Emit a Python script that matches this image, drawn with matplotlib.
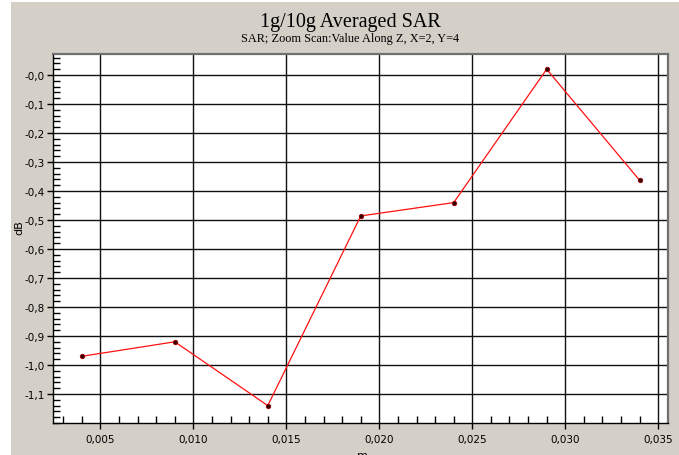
import matplotlib
matplotlib.use("Agg")
import matplotlib.pyplot as plt
from matplotlib.patches import Rectangle
from matplotlib.ticker import MultipleLocator, FuncFormatter

# values
distance_m = [0.004, 0.009, 0.014, 0.019, 0.024, 0.029, 0.034]
sar_db = [-0.97, -0.92, -1.14, -0.486, -0.44, 0.02, -0.363]
x_ticks = [0.005, 0.010, 0.015, 0.020, 0.025, 0.030, 0.035]
y_ticks = [0.0, -0.1, -0.2, -0.3, -0.4, -0.5, -0.6, -0.7, -0.8, -0.9, -1.0, -1.1]

W, H = 679, 456
fig = plt.figure(figsize=(W / 100, H / 100), dpi=100, facecolor="white")
fig.patches.append(Rectangle((11 / W, 0), 1 - 11 / W, 1 - 3 / H, transform=fig.transFigure,
                             facecolor="#d4d0c8", edgecolor="none", zorder=-10))

ax = fig.add_axes([53.4 / W, 1 - 424 / H, (667.5 - 53.4) / W, (424 - 55) / H])
ax.set_facecolor("white")
ax.plot(distance_m, sar_db, color="#ff1010", lw=0.9, zorder=3)
ax.plot(distance_m, sar_db, ls="none", marker="o", ms=3.2, mfc="#300000", mec="#a00000", mew=0.6, zorder=4)

ax.set_xlim(0.00247, 0.0355)
ax.set_ylim(-1.2, 0.0724)
ax.set_xticks(x_ticks)
ax.set_yticks(y_ticks)
ax.xaxis.set_minor_locator(MultipleLocator(0.001))
ax.yaxis.set_minor_locator(MultipleLocator(0.02))
ax.xaxis.set_major_formatter(FuncFormatter(lambda v, p: f"{v:.3f}".replace(".", ",")))
ax.yaxis.set_major_formatter(FuncFormatter(lambda v, p: "-" + f"{abs(v):.1f}".replace(".", ",")))
ax.grid(True, which="major", color="#111111", lw=1.0)
ax.set_axisbelow(True)
ax.tick_params(which="major", direction="out", length=4, width=1, labelsize=7.5, pad=2, colors="black")
ax.tick_params(axis="x", which="major", pad=4)
ax.tick_params(which="minor", direction="in", length=5, width=1, colors="black")
for side in ("left", "bottom"):
    ax.spines[side].set_color("black"); ax.spines[side].set_linewidth(1.0)
for side in ("top", "right"):
    ax.spines[side].set_color("#707070"); ax.spines[side].set_linewidth(1.6)

fig.text(350 / W, 1 - 27 / H, "1g/10g Averaged SAR", family="Liberation Serif", fontsize=14.5,
         ha="center", va="baseline")
fig.text(350 / W, 1 - 41.7 / H, "SAR; Zoom Scan:Value Along Z, X=2, Y=4", family="Liberation Serif",
         fontsize=8.8, ha="center", va="baseline")
fig.text(19 / W, 1 - 228 / H, "dB", rotation=90, fontsize=8, ha="center", va="center")
fig.text(362 / W, 1 - 451 / H, "m", fontsize=8, ha="center", va="top")

fig.savefig("out.png", dpi=100, facecolor="white")
